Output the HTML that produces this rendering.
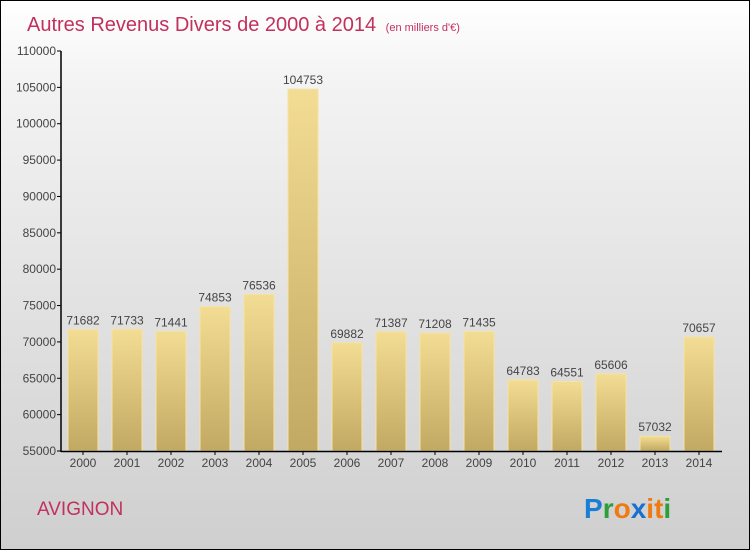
<!DOCTYPE html>
<html><head><meta charset="utf-8"><style>
body{margin:0}
#c{position:relative;width:748px;height:548px;border:1px solid #000;background:linear-gradient(#fff,#f3f3f3 15%,#cfcfcf);overflow:hidden;font-family:"Liberation Sans",sans-serif}
svg text{font-family:"Liberation Sans",sans-serif}
</style></head><body>
<div id="c">
<svg width="748" height="548" id="s">
<defs><linearGradient id="g" x1="0" y1="0" x2="0" y2="1"><stop offset="0" stop-color="#f3dc93"/><stop offset="1" stop-color="#c2a963"/></linearGradient></defs>
<text x="26" y="30" font-size="20" fill="#c2305e">Autres Revenus Divers de 2000 à 2014 <tspan font-size="11" dx="4">(en milliers d'€)</tspan></text>
<text x="36" y="514" font-size="19" fill="#c2305e">AVIGNON</text>
<text x="583" y="517" font-size="28" font-weight="bold"><tspan fill="#1a7fd4">P</tspan><tspan fill="#2e9e3a">r</tspan><tspan fill="#f07a10">o</tspan><tspan fill="#1a6fd0">x</tspan><tspan fill="#f07a10">i</tspan><tspan fill="#f07a10">t</tspan><tspan fill="#2e9e3a">i</tspan></text>
<g id="plot"></g>
</svg></div>
<script>
const categories=["2000","2001","2002","2003","2004","2005","2006","2007","2008","2009","2010","2011","2012","2013","2014"];
const values=[71682,71733,71441,74853,76536,104753,69882,71387,71208,71435,64783,64551,65606,57032,70657];
const ticks=[55000,60000,65000,70000,75000,80000,85000,90000,95000,100000,105000,110000];
const NS="http://www.w3.org/2000/svg";
const p=document.getElementById('plot');
const y=v=>450-(v-55000)/55000*400;
const x=i=>82+i*44;
function mk(t,a,txt){const e=document.createElementNS(NS,t);for(const k in a)e.setAttribute(k,a[k]);if(txt!==undefined)e.textContent=txt;p.appendChild(e);return e;}
ticks.forEach(t=>{
 const l=mk('line',{x1:56,x2:60,y1:y(t),y2:y(t),stroke:'#000'});
 
 
 const tx=mk('text',{x:55,y:y(t)+4,'text-anchor':'end','font-size':12,fill:'#444'},t);
 
 
});
values.forEach((v,i)=>{
 const r=mk('rect',{x:x(i)-15,y:y(v),width:30,height:450-y(v),fill:'url(#g)',stroke:'#f5e3a2','stroke-width':1});
 
 
 const t=mk('text',{x:x(i),y:y(v)-5,'text-anchor':'middle','font-size':12,fill:'#444'},v);
 
 
 const c=mk('text',{x:x(i),y:466,'text-anchor':'middle','font-size':12,fill:'#444'},categories[i]);
 
 
 const k=mk('line',{x1:x(i),x2:x(i),y1:450,y2:454,stroke:'#000'});
 
 
});
const ya=mk('line',{x1:60,x2:60,y1:50,y2:451,stroke:'#000','stroke-width':1.5});


const xa=mk('line',{x1:60,x2:721,y1:450.5,y2:450.5,stroke:'#000','stroke-width':1.5});


</script>
</body></html>
